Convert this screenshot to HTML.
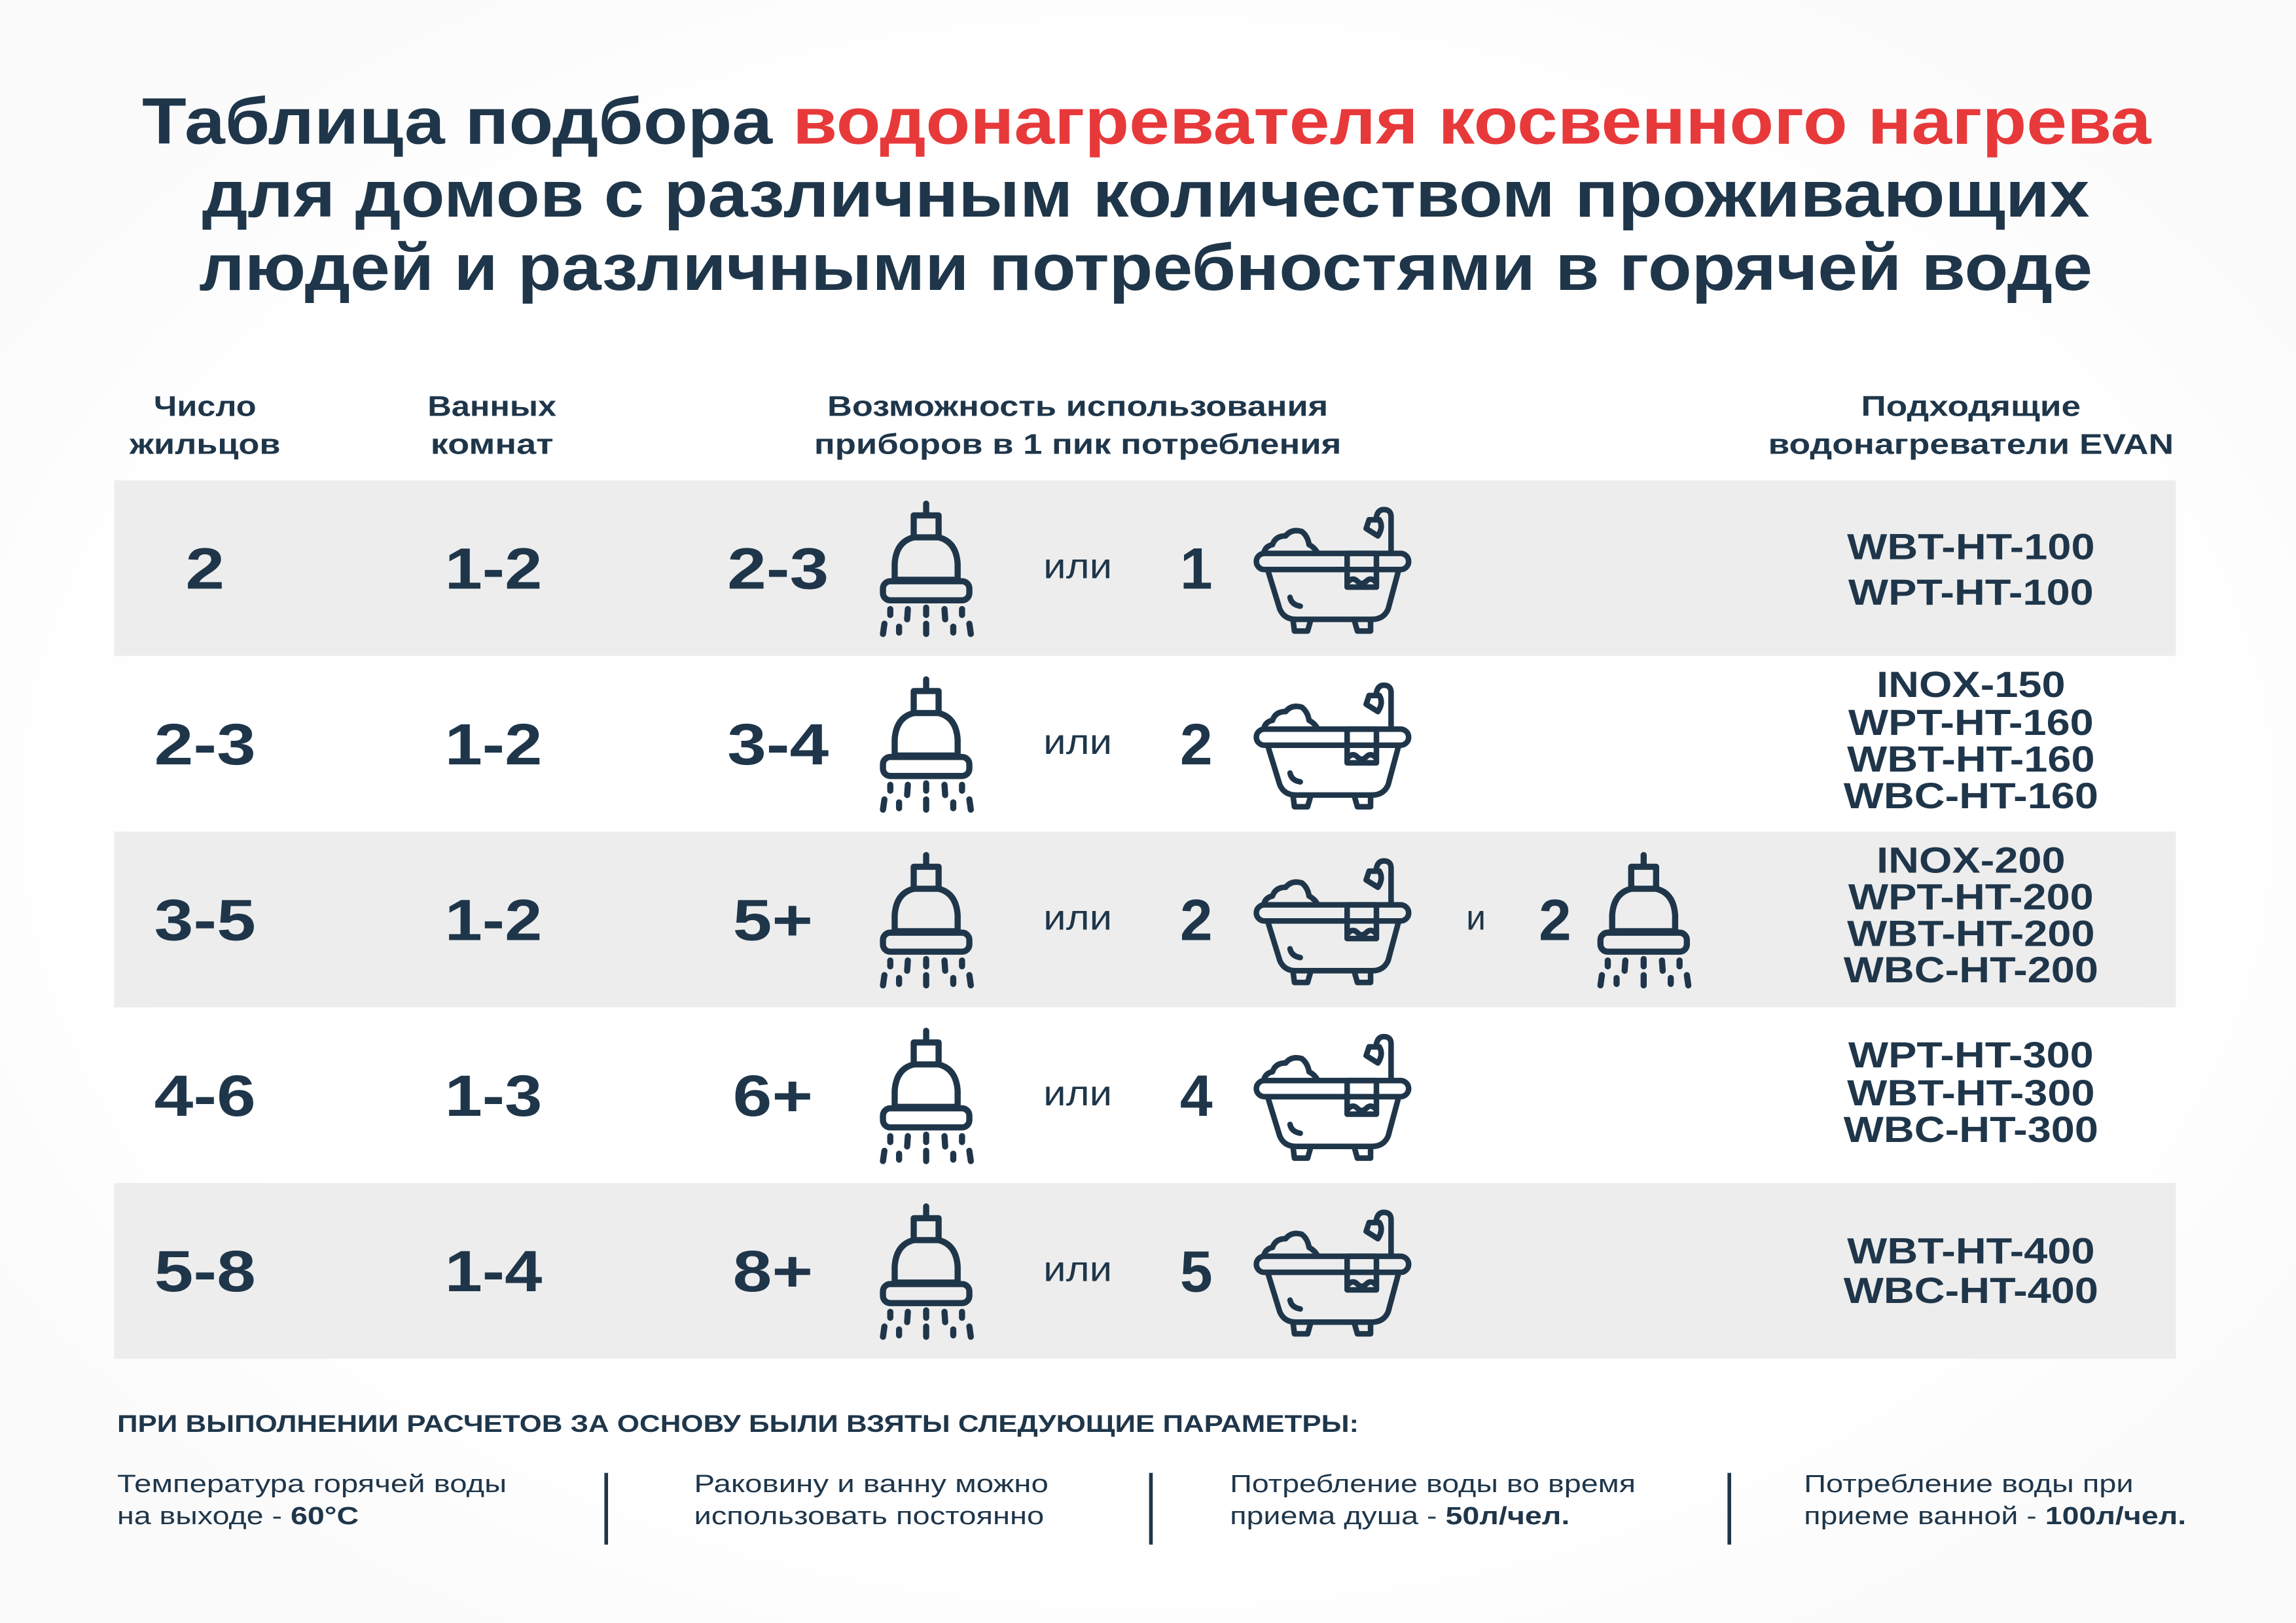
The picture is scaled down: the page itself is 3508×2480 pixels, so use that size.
<!DOCTYPE html>
<html><head><meta charset="utf-8">
<style>
html,body{margin:0;padding:0;background:#fff;}
svg{display:block;}
text{font-family:"Liberation Sans",sans-serif;fill:#1f364a;}
</style></head>
<body>
<svg width="3508" height="2480" viewBox="0 0 1568 1108.5" preserveAspectRatio="none" xmlns="http://www.w3.org/2000/svg">
<defs>
<radialGradient id="bg" cx="0.5" cy="0.5" r="0.62">
<stop offset="0.7" stop-color="#ffffff"/>
<stop offset="1" stop-color="#fafafa"/>
</radialGradient>
<g id="shower" fill="none" stroke="#1f364a" stroke-width="4.2" stroke-linecap="round" stroke-linejoin="round">
<line x1="32.5" y1="1" x2="32.5" y2="8"/>
<rect x="24" y="9" width="17" height="15"/>
<path d="M24 24 Q12 27 11 42 L11 53 L54 53 L54 42 Q53 27 41 24"/>
<rect x="3" y="54" width="59" height="13" rx="5"/>
<line x1="8" y1="73" x2="8" y2="77"/><line x1="20" y1="73" x2="19.5" y2="80"/><line x1="32.5" y1="72" x2="32.5" y2="77"/><line x1="45" y1="73" x2="45.5" y2="80"/><line x1="57" y1="73" x2="57" y2="77"/>
<line x1="3" y1="90" x2="4" y2="83"/><line x1="14" y1="85" x2="14" y2="89"/><line x1="32.5" y1="83" x2="32.5" y2="90"/><line x1="51" y1="85" x2="51" y2="89"/><line x1="62" y1="83" x2="63" y2="90"/>
</g>
<g id="bath" fill="none" stroke="#1f364a" stroke-width="3.8" stroke-linecap="round" stroke-linejoin="round">
<rect x="1" y="32" width="104" height="11" rx="5.5"/>
<path d="M9 44 L17 70 Q20 77 28 77 L80 77 Q88 77 91 70 L98 44"/>
<path d="M26 77 L27 85 L36 85 L38 78"/>
<path d="M68 78 L70 85 L79 85 L79 77"/>
<rect x="63" y="32" width="20" height="23"/>
<path d="M64 51 q3 -3 6 0 q3 3 6 0 q3 -3 6 0"/>
<path d="M24 62 Q25 67 31 68"/>
<path d="M6 32 Q7 27 12 26 Q14 20 21 20 Q25 15 32 17 Q36 20 37 26 Q41 28 43 32"/>
<path d="M93 32 L93 7 Q93 2 88 2 Q84 2 83 7"/>
<path d="M78 9 L85 9 Q88 14 84 20 L76 15 Z"/>
</g>
</defs>
<rect width="1568" height="1108.5" fill="url(#bg)"/>

<!-- title -->
<text x="97" y="98" font-size="45" font-weight="bold" textLength="1372" lengthAdjust="spacingAndGlyphs">Таблица подбора <tspan fill="#e8393a">водонагревателя косвенного нагрева</tspan></text>
<text x="138" y="148" font-size="45" font-weight="bold" textLength="1289" lengthAdjust="spacingAndGlyphs">для домов с различным количеством проживающих</text>
<text x="136" y="198" font-size="45" font-weight="bold" textLength="1293" lengthAdjust="spacingAndGlyphs">людей и различными потребностями в горячей воде</text>

<!-- headers -->
<g font-size="19.5" font-weight="bold" text-anchor="middle">
<text x="140" y="284" textLength="70" lengthAdjust="spacingAndGlyphs">Число</text><text x="140" y="310" textLength="103" lengthAdjust="spacingAndGlyphs">жильцов</text>
<text x="336" y="284" textLength="88" lengthAdjust="spacingAndGlyphs">Ванных</text><text x="336" y="310" textLength="84" lengthAdjust="spacingAndGlyphs">комнат</text>
<text x="736" y="284" textLength="342" lengthAdjust="spacingAndGlyphs">Возможность использования</text>
<text x="736" y="310" textLength="360" lengthAdjust="spacingAndGlyphs">приборов в 1 пик потребления</text>
<text x="1346" y="284" textLength="150" lengthAdjust="spacingAndGlyphs">Подходящие</text>
<text x="1346" y="310" textLength="277" lengthAdjust="spacingAndGlyphs">водонагреватели EVAN</text>
</g>

<!-- rows bg -->
<rect x="78" y="328" width="1408" height="120" fill="#ededed"/>
<rect x="78" y="568" width="1408" height="120" fill="#ededed"/>
<rect x="78" y="808" width="1408" height="120" fill="#ededed"/>

<g font-size="40" font-weight="bold">
<g text-anchor="middle" transform="translate(140 0) scale(1.2 1) translate(-140 0)">
<text x="140" y="402">2</text><text x="140" y="522">2-3</text><text x="140" y="642">3-5</text><text x="140" y="762">4-6</text><text x="140" y="882">5-8</text>
</g>
<g text-anchor="middle" transform="translate(337 0) scale(1.15 1) translate(-337 0)">
<text x="337" y="402">1-2</text><text x="337" y="522">1-2</text><text x="337" y="642">1-2</text><text x="337" y="762">1-3</text><text x="337" y="882">1-4</text>
</g>
<g text-anchor="middle">
<text x="817" y="402">1</text><text x="817" y="522">2</text><text x="817" y="642">2</text><text x="817" y="762">4</text><text x="817" y="882">5</text>
<text x="1062" y="642">2</text>
</g>
<g text-anchor="end" transform="translate(566 0) scale(1.2 1) translate(-566 0)">
<text x="566" y="402">2-3</text><text x="566" y="522">3-4</text><text x="557" y="642">5+</text><text x="557" y="762">6+</text><text x="557" y="882">8+</text>
</g>
</g>
<g font-size="24" text-anchor="middle" transform="translate(736 0) scale(1.15 1) translate(-736 0)">
<text x="736" y="395">или</text><text x="736" y="515">или</text><text x="736" y="635">или</text><text x="736" y="755">или</text><text x="736" y="875">или</text>
</g>
<text x="1008" y="635" font-size="24" text-anchor="middle">и</text>

<use href="#shower" x="600" y="343"/>
<use href="#shower" x="600" y="463"/>
<use href="#shower" x="600" y="583"/>
<use href="#shower" x="600" y="703"/>
<use href="#shower" x="600" y="823"/>
<use href="#shower" x="1090" y="583"/>
<use href="#bath" x="857" y="346"/>
<use href="#bath" x="857" y="466"/>
<use href="#bath" x="857" y="586"/>
<use href="#bath" x="857" y="706"/>
<use href="#bath" x="857" y="826"/>

<g font-size="25" font-weight="bold" text-anchor="middle" transform="translate(1346 0) scale(1.16 1) translate(-1346 0)">
<text x="1346" y="382">WBT-HT-100</text><text x="1346" y="413">WPT-HT-100</text>
<text x="1346" y="476">INOX-150</text><text x="1346" y="502">WPT-HT-160</text><text x="1346" y="527">WBT-HT-160</text><text x="1346" y="552">WBC-HT-160</text>
<text x="1346" y="596">INOX-200</text><text x="1346" y="621">WPT-HT-200</text><text x="1346" y="646">WBT-HT-200</text><text x="1346" y="671">WBC-HT-200</text>
<text x="1346" y="729">WPT-HT-300</text><text x="1346" y="755">WBT-HT-300</text><text x="1346" y="780">WBC-HT-300</text>
<text x="1346" y="863">WBT-HT-400</text><text x="1346" y="890">WBC-HT-400</text>
</g>

<!-- footer -->
<text x="80" y="978" font-size="16.5" font-weight="bold" textLength="848" lengthAdjust="spacingAndGlyphs">ПРИ ВЫПОЛНЕНИИ РАСЧЕТОВ ЗА ОСНОВУ БЫЛИ ВЗЯТЫ СЛЕДУЮЩИЕ ПАРАМЕТРЫ:</text>
<g font-size="17">
<text x="80" y="1019" textLength="266" lengthAdjust="spacingAndGlyphs">Температура горячей воды</text>
<text x="80" y="1041" textLength="165" lengthAdjust="spacingAndGlyphs">на выходе - <tspan font-weight="bold">60°C</tspan></text>
<text x="474" y="1019" textLength="242" lengthAdjust="spacingAndGlyphs">Раковину и ванну можно</text>
<text x="474" y="1041" textLength="239" lengthAdjust="spacingAndGlyphs">использовать постоянно</text>
<text x="840" y="1019" textLength="277" lengthAdjust="spacingAndGlyphs">Потребление воды во время</text>
<text x="840" y="1041" textLength="232" lengthAdjust="spacingAndGlyphs">приема душа - <tspan font-weight="bold">50л/чел.</tspan></text>
<text x="1232" y="1019" textLength="225" lengthAdjust="spacingAndGlyphs">Потребление воды при</text>
<text x="1232" y="1041" textLength="261" lengthAdjust="spacingAndGlyphs">приеме ванной - <tspan font-weight="bold">100л/чел.</tspan></text>
</g>
<g stroke="#1f364a" stroke-width="2.5">
<line x1="414" y1="1006" x2="414" y2="1055"/>
<line x1="786" y1="1006" x2="786" y2="1055"/>
<line x1="1181" y1="1006" x2="1181" y2="1055"/>
</g>
</svg>
</body></html>
